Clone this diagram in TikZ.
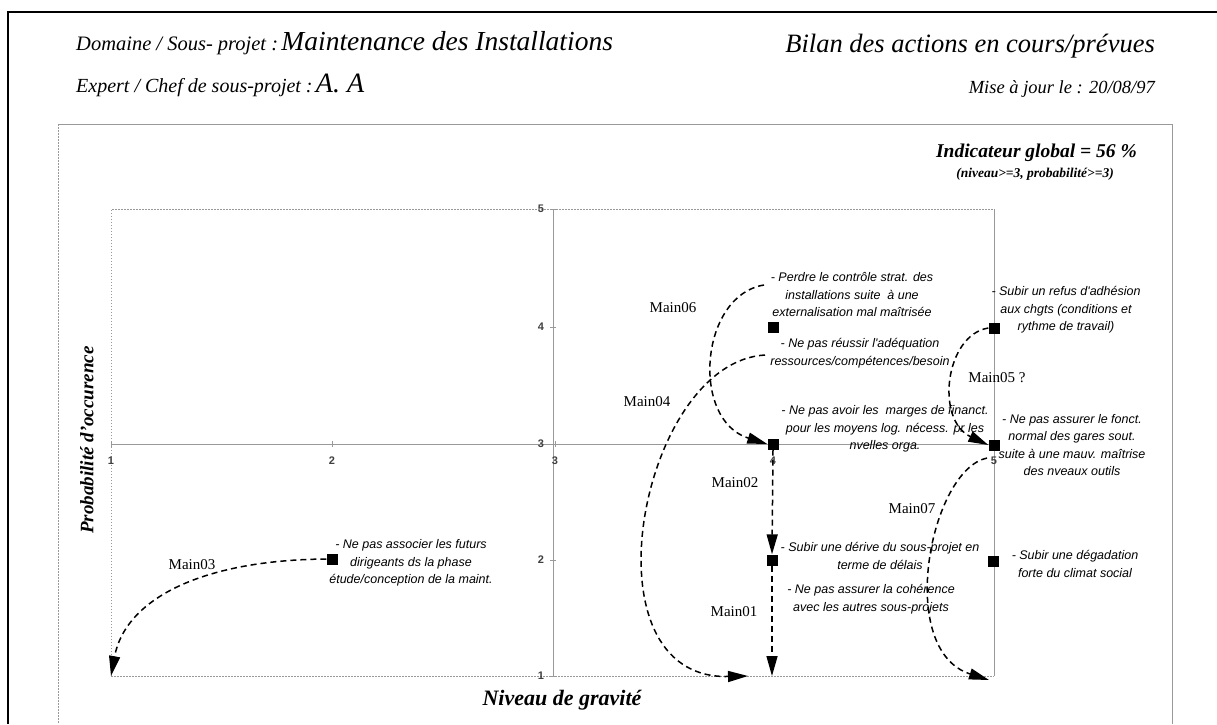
\documentclass[tikz,border=0pt]{standalone}
\usepackage{fontspec}
\setmainfont{Liberation Serif}
\newfontfamily\arialfont{Liberation Sans}
\usetikzlibrary{positioning, arrows.meta}

\tikzset{
  riskpt/.style={rectangle, fill=black, minimum size=11pt, inner sep=0pt},
  risktxt/.style={font=\arialfont\itshape\fontsize{12.5}{17.5}\selectfont, align=center, inner sep=0pt},
  mainlbl/.style={font=\fontsize{15}{17}\selectfont, inner sep=0pt},
  axlbl/.style={font=\arialfont\bfseries\fontsize{11}{12}\selectfont, text=black!75, inner sep=0pt},
  moveline/.style={dash pattern=on 6pt off 4pt, line width=1.5pt, -{Triangle[length=20pt,width=11pt]}},
  gridln/.style={black!40, line width=0.8pt},
  dotln/.style={black!40, line width=0.8pt, dash pattern=on 1.5pt off 1.5pt},
}

\begin{document}
\begin{tikzpicture}[x=1pt, y=-1pt]
  \useasboundingbox[fill=white] (0,0) rectangle (1217,724);

  % Frames
  \draw[line width=2pt] (8,724) -- (8,12) -- (1217,12);
  \draw[gridln] (1172,724) -- (1172,124) -- (58,124);
  \draw[dotln] (58,124) -- (58,724);

  % Header
  \node[anchor=base west, inner sep=0pt] (domaine) at (76,50)
    {{\itshape\fontsize{20.5}{24}\selectfont Domaine / Sous- projet :} {\itshape\fontsize{27.5}{32}\selectfont Maintenance des Installations}};
  \node[anchor=base west, inner sep=0pt] (expert) at (76,92)
    {{\itshape\fontsize{20}{24}\selectfont Expert / Chef de sous-projet :} {\itshape\fontsize{28}{32}\selectfont A. A}};
  \node[anchor=base east, inner sep=0pt, font=\itshape\fontsize{26.5}{30}\selectfont] (bilan) at (1155,52) {Bilan des actions en cours/prévues};
  \node[anchor=base east, inner sep=0pt, font=\itshape\fontsize{18.5}{22}\selectfont] (maj) at (1155,93) {Mise à jour le : 20/08/97};
  \node[anchor=base east, inner sep=0pt, font=\bfseries\itshape\fontsize{19.5}{22}\selectfont] (indic) at (1137,157) {Indicateur global = 56 \%};
  \node[anchor=base, inner sep=0pt, font=\bfseries\itshape\fontsize{13.5}{16}\selectfont] (cond) at (1035,177) {(niveau>=3, probabilité>=3)};

  % Plot area
  \draw[dotln] (111,676) -- (111,209) -- (994,209);
  \draw[dotln] (111,676) -- (994,676);
  \draw[gridln] (994,209) -- (994,676);
  \draw[gridln] (553,209) -- (553,676); % niveau 3
  \draw[gridln] (111,444) -- (994,444); % probabilite 3

  \foreach \g/\x in {1/111, 2/332, 3/555, 4/773, 5/994} {
    \draw[gridln] (\x,441) -- (\x,447);
    \node[axlbl] (gx\g) at (\x,461) {\g};
  }
  \foreach \p/\y in {5/209, 4/327, 3/444, 2/560, 1/676} {
    \draw[gridln] (550,\y) -- (556,\y);
    \node[axlbl] (py\p) at (541,\y) {\p};
  }

  \node[font=\bfseries\itshape\fontsize{19}{22}\selectfont, rotate=90] (ytitle) at (87,440) {Probabilité d'occurence};
  \node[font=\bfseries\itshape\fontsize{22}{26}\selectfont] (xtitle) at (562,700) {Niveau de gravité};

  % Risks
  \node[riskpt] (p44) at (773,327) {};
  \node[riskpt] (p43) at (773,444) {};
  \node[riskpt] (p42) at (772,560) {};
  \node[riskpt] (p54) at (994,328) {};
  \node[riskpt] (p53) at (994,445) {};
  \node[riskpt] (p52) at (993,561) {};
  \node[riskpt] (p22) at (332,559) {};

  \node[risktxt] (t44a) at (852,295) {- Perdre le contrôle strat. des\\installations suite~ à une\\externalisation mal maîtrisée};
  \node[risktxt] (t44b) at (860,353) {- Ne pas réussir l'adéquation\\ressources/compétences/besoin};
  \node[risktxt] (t43) at (885,429) {- Ne pas avoir les~ marges de financt.\\pour les moyens log. nécess. pr les\\nvelles orga.};
  \node[risktxt] (t54) at (1066,310) {- Subir un refus d'adhésion\\aux chgts (conditions et\\rythme de travail)};
  \node[risktxt] (t53) at (1072,445) {- Ne pas assurer le fonct.\\normal des gares sout.\\suite à une mauv. maîtrise\\des nveaux outils};
  \node[risktxt] (t52) at (1075,564) {- Subir une dégadation\\forte du climat social};
  \node[risktxt] (t42a) at (880,556) {- Subir une dérive du sous-projet en\\terme de délais};
  \node[risktxt] (t42b) at (871,599) {- Ne pas assurer la cohérence\\avec les autres sous-projets};
  \node[risktxt] (t22) at (411,563) {- Ne pas associer les futurs\\dirigeants ds la phase\\étude/conception de la maint.};

  \node[mainlbl] (l06) at (673,308) {Main06};
  \node[mainlbl] (l04) at (647,402) {Main04};
  \node[mainlbl] (l02) at (735,483) {Main02};
  \node[mainlbl] (l01) at (734,612) {Main01};
  \node[mainlbl] (l05) at (997,378) {Main05 ?};
  \node[mainlbl] (l07) at (912,509) {Main07};
  \node[mainlbl] (l03) at (192,565) {Main03};

  % Moves
  \coordinate (s06) at (764,285);
  \coordinate (s04) at (765,355);
  \coordinate (e04) at (748,676);
  \coordinate (s07) at (987,458);
  \coordinate (e07) at (989,680);
  \coordinate (b41) at (772,676);
  \coordinate (b11) at (111,676);

  \draw[moveline] (s06) .. controls (700,295) and (690,420) .. (p43.west);
  \draw[moveline] (s04) .. controls (640,362) and (580,680) .. (e04);
  \draw[moveline] (p43.south) -- (p42.north);
  \draw[moveline] (p42.south) -- (b41);
  \draw[moveline] (p54.west) .. controls (945,335) and (935,420) .. (p53.west);
  \draw[moveline] (s07) .. controls (930,470) and (895,650) .. (e07);
  \draw[moveline] (p22.west) .. controls (200,560) and (125,600) .. (b11);
\end{tikzpicture}
\end{document}
